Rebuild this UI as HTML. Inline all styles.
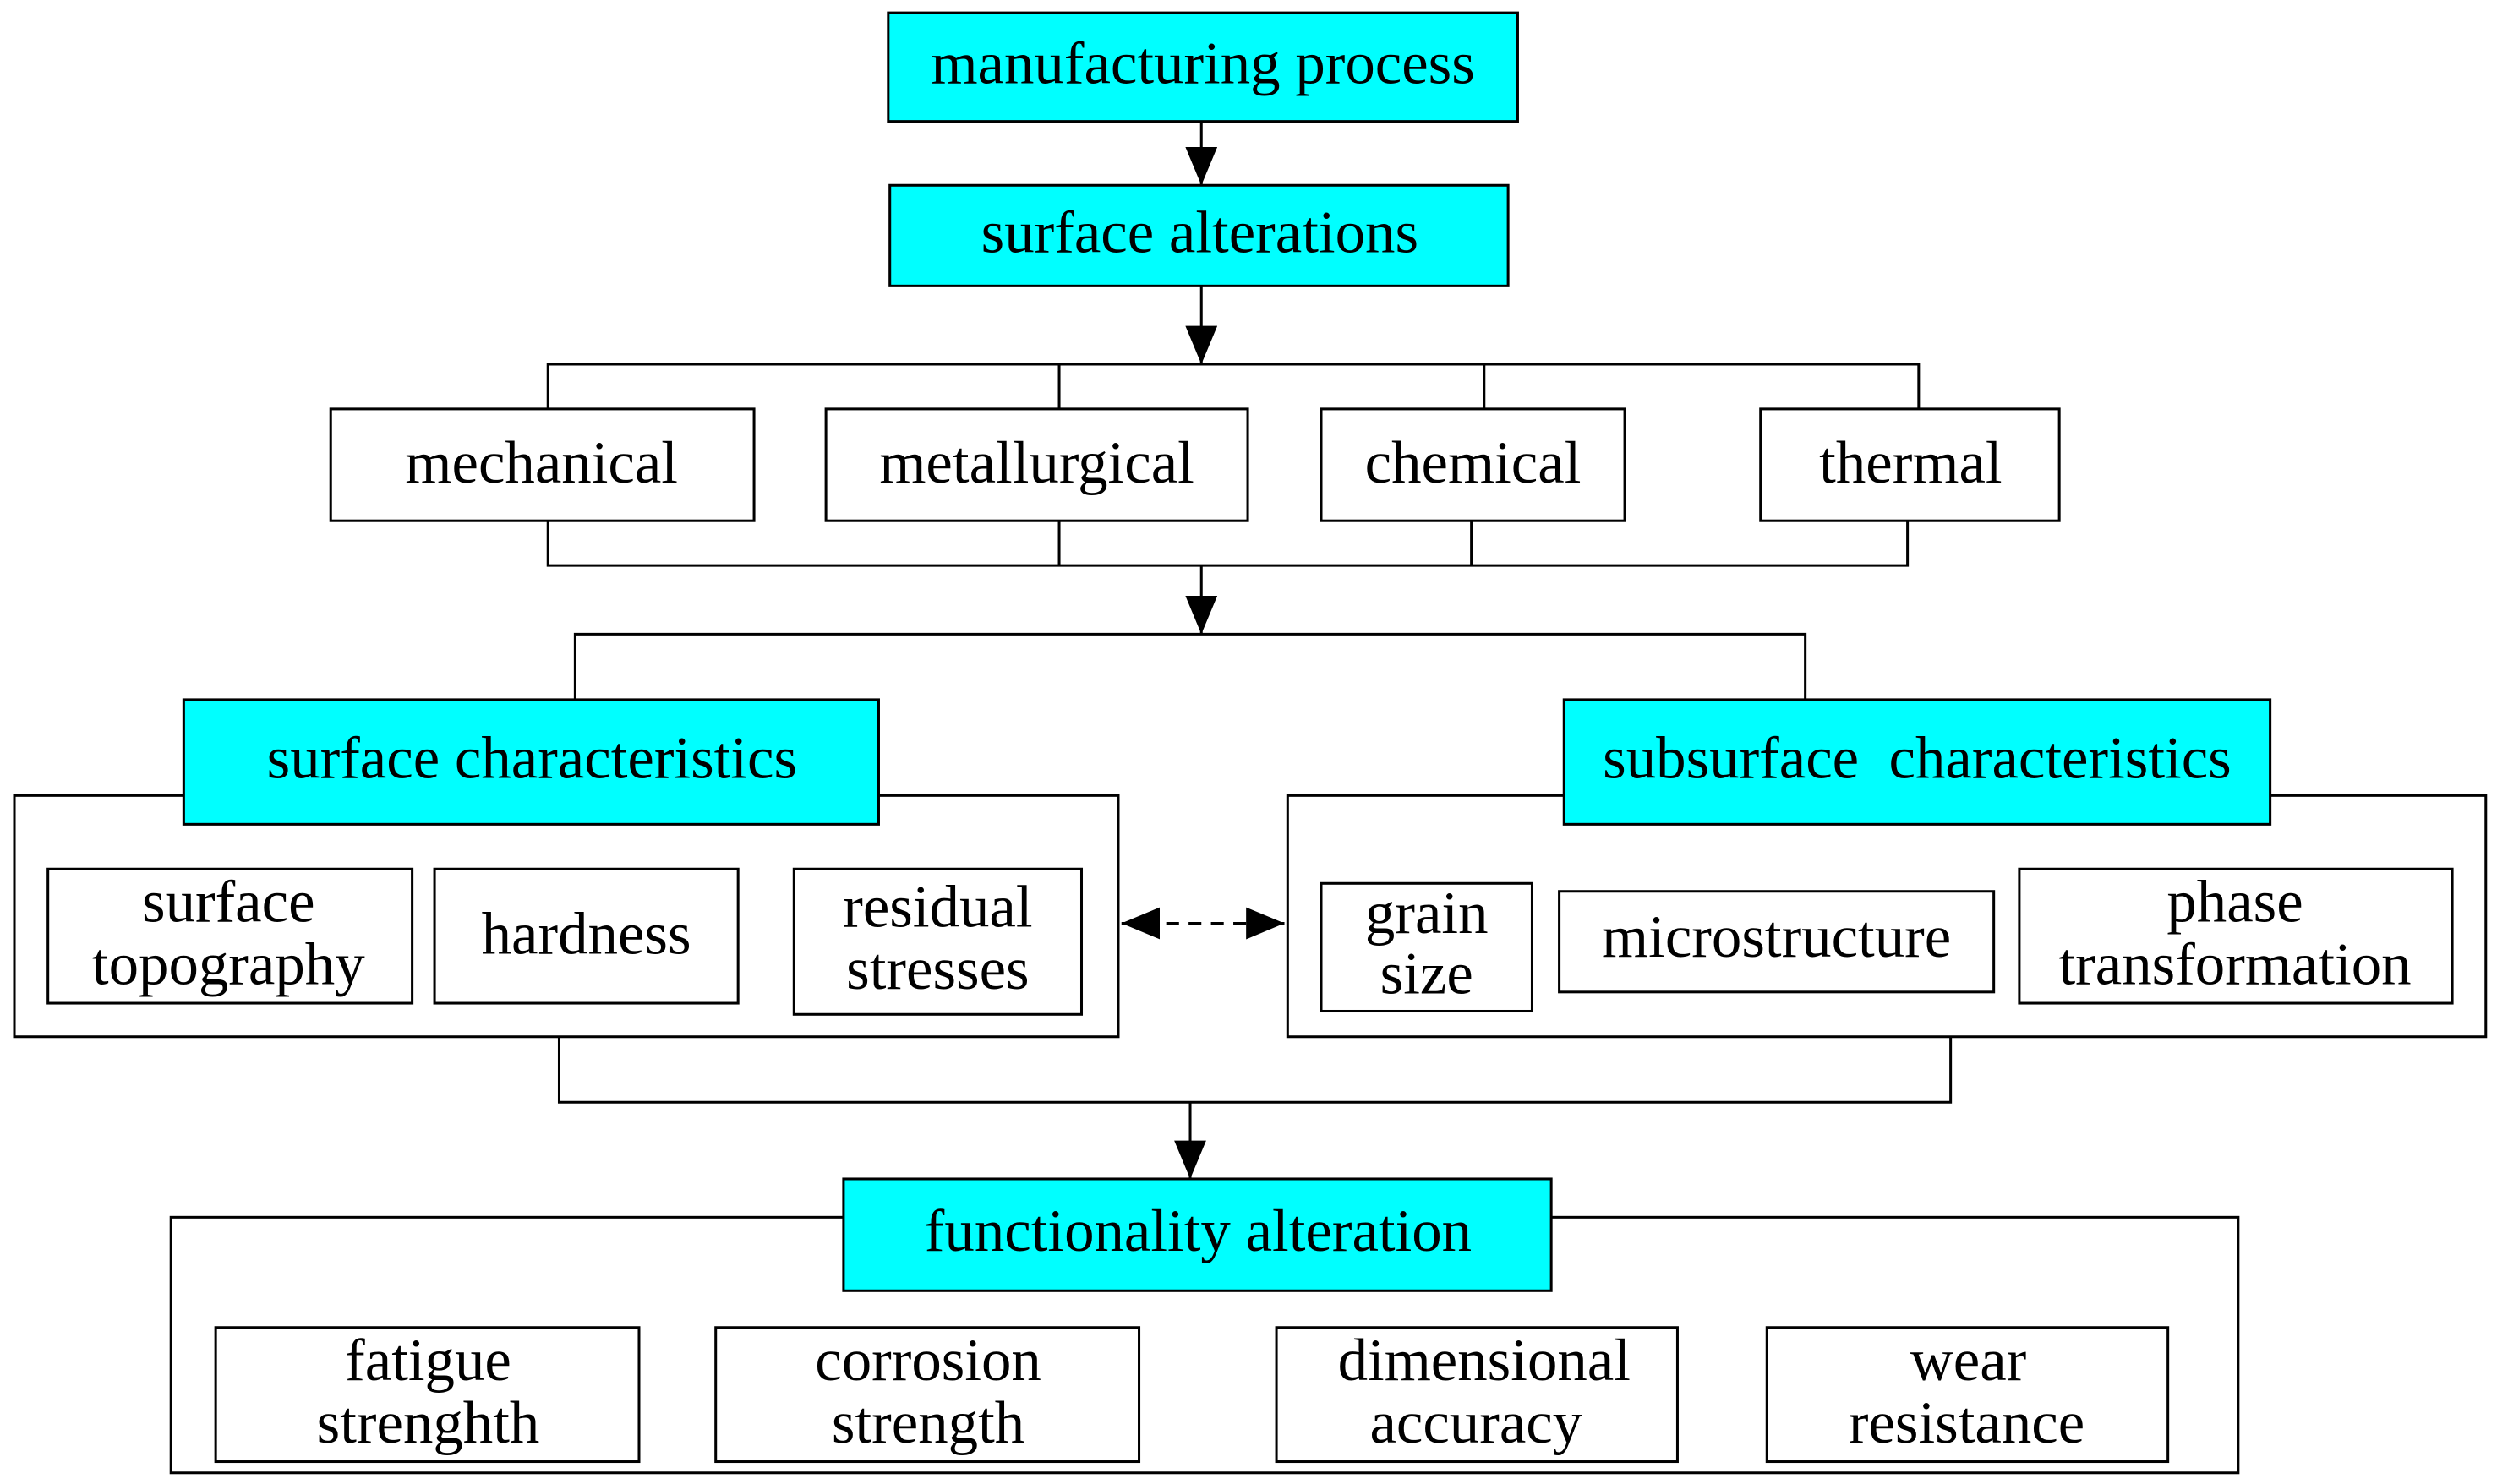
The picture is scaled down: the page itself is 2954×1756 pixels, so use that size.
<!DOCTYPE html>
<html><head><meta charset="utf-8"><style>
html,body{margin:0;padding:0;background:#fff}
svg{display:block}
text{font-family:"Liberation Serif",serif;font-size:37.5px;fill:#000;text-anchor:middle}
.c{fill:#00ffff;stroke:#000;stroke-width:1.6}
.b{fill:#fff;stroke:#000;stroke-width:1.6}
.l{stroke:#000;stroke-width:1.6;fill:none}
</style></head><body>
<svg width="2954" height="1756" viewBox="0 0 1563 929" preserveAspectRatio="none" xmlns="http://www.w3.org/2000/svg">
<defs>
<marker id="h" viewBox="0 0 24 20" markerWidth="24" markerHeight="20" refX="24" refY="10" orient="auto" markerUnits="userSpaceOnUse"><path d="M0,0 L24,10 L0,20 z" fill="#000"/></marker>
<marker id="hs" viewBox="0 0 24 20" markerWidth="24" markerHeight="20" refX="0" refY="10" orient="auto" markerUnits="userSpaceOnUse"><path d="M24,0 L0,10 L24,20 z" fill="#000"/></marker>
</defs>
<rect class="c" x="556" y="8" width="394" height="68"/><text x="753" y="52">manufacturing process</text>
<line class="l" x1="752" y1="76" x2="752" y2="116" marker-end="url(#h)"/>
<rect class="c" x="557" y="116" width="387" height="63"/><text x="751" y="158">surface alterations</text>
<line class="l" x1="752" y1="179" x2="752" y2="228" marker-end="url(#h)"/>
<path class="l" d="M343,256 V228 H1201 V256 M663,228 V256 M929,228 V256"/>
<rect class="b" x="207" y="256" width="265" height="70"/><text x="339" y="302">mechanical</text>
<rect class="b" x="517" y="256" width="264" height="70"/><text x="649" y="302">metallurgical</text>
<rect class="b" x="827" y="256" width="190" height="70"/><text x="922" y="302">chemical</text>
<rect class="b" x="1102" y="256" width="187" height="70"/><text x="1196" y="302">thermal</text>
<path class="l" d="M343,326 V354 H1194 V326 M663,326 V354 M921,326 V354"/>
<line class="l" x1="752" y1="354" x2="752" y2="397" marker-end="url(#h)"/>
<path class="l" d="M360,438 V397 H1130 V438"/>
<rect class="b" x="9" y="498" width="691" height="151"/>
<rect class="c" x="115" y="438" width="435" height="78"/><text x="333" y="487">surface characteristics</text>
<rect class="b" x="806" y="498" width="750" height="151"/>
<rect class="c" x="979" y="438" width="442" height="78"/><text x="1200" y="487">subsurface&#160; characteristics</text>
<rect class="b" x="30" y="544" width="228" height="84"/><text x="143" y="577">surface</text><text x="143" y="616">topography</text>
<rect class="b" x="272" y="544" width="190" height="84"/><text x="367" y="597">hardness</text>
<rect class="b" x="497" y="544" width="180" height="91"/><text x="587" y="580">residual</text><text x="587" y="619">stresses</text>
<rect class="b" x="827" y="553" width="132" height="80"/><text x="893" y="584">grain</text><text x="893" y="622">size</text>
<rect class="b" x="976" y="558" width="272" height="63"/><text x="1112" y="599">microstructure</text>
<rect class="b" x="1264" y="544" width="271" height="84"/><text x="1399" y="577">phase</text><text x="1399" y="616">transformation</text>
<line class="l" x1="702" y1="578" x2="804" y2="578" stroke-dasharray="8,6" marker-start="url(#hs)" marker-end="url(#h)"/>
<path class="l" d="M350,649 V690 H1221 V649"/>
<line class="l" x1="745" y1="690" x2="745" y2="738" marker-end="url(#h)"/>
<rect class="b" x="107" y="762" width="1294" height="160"/>
<rect class="c" x="528" y="738" width="443" height="70"/><text x="750" y="783">functionality alteration</text>
<rect class="b" x="135" y="831" width="265" height="84"/><text x="268" y="864">fatigue</text><text x="268" y="903">strenghth</text>
<rect class="b" x="448" y="831" width="265" height="84"/><text x="581" y="864">corrosion</text><text x="581" y="903">strength</text>
<rect class="b" x="799" y="831" width="251" height="84"/><text x="929" y="864">dimensional</text><text x="924" y="903">accuracy</text>
<rect class="b" x="1106" y="831" width="251" height="84"/><text x="1232" y="864">wear</text><text x="1231" y="903">resistance</text>
</svg>
</body></html>
